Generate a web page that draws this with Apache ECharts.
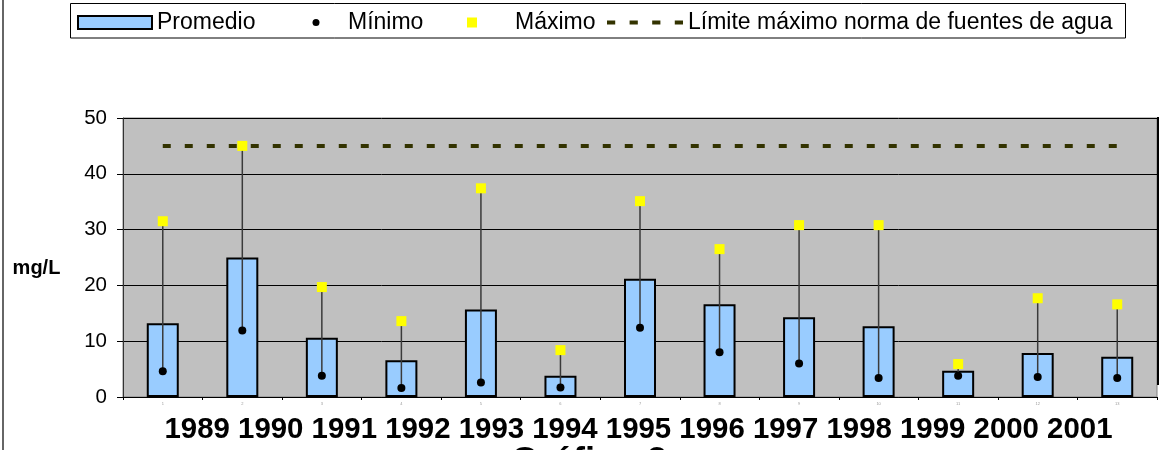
<!DOCTYPE html>
<html>
<head>
<meta charset="utf-8">
<script src="https://cdn.jsdelivr.net/npm/echarts@6/dist/echarts.min.js"></script>
<style>
  html, body { margin: 0; padding: 0; background: #fff; }
  #chart { width: 1159px; height: 450px; }
</style>
</head>
<body>
<div id="chart"></div>
<script>
// Nitrate concentration per year (mg/L)
const years = ['1989', '1990', '1991', '1992', '1993', '1994', '1995', '1996', '1997', '1998', '1999', '2000', '2001'];
const promedio = [13.2, 25.0, 10.6, 6.6, 15.7, 3.8, 21.2, 16.6, 14.3, 12.7, 4.7, 7.9, 7.2];
const minimo = [4.6, 11.9, 3.8, 1.6, 2.6, 1.7, 12.4, 8.0, 6.0, 3.4, 3.8, 3.6, 3.4];
const maximo = [31.5, 45.0, 19.7, 13.6, 37.4, 8.4, 35.1, 26.5, 30.8, 30.8, 5.9, 17.7, 16.6];
const limiteNorma = 45;
const yMin = 0, yMax = 50, yStep = 10;

const FONT = '"Liberation Sans", Arial, sans-serif';
const chart = echarts.init(document.getElementById('chart'), null, { renderer: 'canvas' });

const rangeData = years.map((y, i) => [i, minimo[i], maximo[i]]);
const limitData = years.map(() => limiteNorma);

const legendText = { fontFamily: FONT, fontSize: 23, color: '#000' };
const legendTop = 11;

chart.setOption({
  animation: false,
  backgroundColor: '#fff',
  grid: {
    left: 123, right: 2, top: 118, bottom: 53,
    show: true, backgroundColor: '#C0C0C0', borderColor: '#808080', borderWidth: 1
  },
  // one legend block per entry so each sits at its own spot inside the frame
  legend: [
    { data: [{ name: 'Promedio', icon: 'rect' }], left: 77, top: legendTop, padding: 0, itemWidth: 74, itemHeight: 13,
      textStyle: legendText, selectedMode: false },
    { data: [{ name: 'Mínimo', icon: 'circle' }], left: 312.5, top: legendTop, padding: 0, itemWidth: 54, itemHeight: 7,
      textStyle: legendText, selectedMode: false },
    { data: [{ name: 'Máximo', icon: 'path://M0,0h10v10h-10z' }], left: 467, top: legendTop, padding: 0,
      itemWidth: 76, itemHeight: 10, symbolKeepAspect: true,
      textStyle: legendText, selectedMode: false },
    { data: [{ name: 'Límite máximo norma de fuentes de agua',
               icon: 'path://M0,0h8v4h-8z M22,0h8v4h-8z M44,0h8v4h-8z M66,0h8v4h-8z',
               itemStyle: { color: '#333300', borderWidth: 0 } }],
      left: 607, top: legendTop, padding: 0, itemWidth: 76, itemHeight: 4, symbolKeepAspect: false,
      textStyle: legendText, selectedMode: false }
  ],
  xAxis: {
    type: 'category',
    data: years,
    boundaryGap: true,
    axisLine: { show: true, lineStyle: { color: '#000', width: 1 } },
    axisTick: { show: true, length: 3, lineStyle: { color: '#000' } },
    axisLabel: {
      formatter: (v, i) => String(i + 1),
      fontSize: 4, color: '#999', margin: 5, fontFamily: FONT
    },
    splitLine: { show: false }
  },
  yAxis: {
    type: 'value',
    min: yMin, max: yMax, interval: yStep,
    axisLine: { show: true, lineStyle: { color: '#333', width: 1 } },
    axisTick: { show: true, inside: false, length: 6, lineStyle: { color: '#000' } },
    axisLabel: { fontFamily: FONT, fontSize: 20.5, color: '#000', margin: 16 },
    splitLine: { show: true, lineStyle: { color: '#000', width: 1 } }
  },
  series: [
    {
      name: 'Promedio',
      type: 'bar',
      data: promedio,
      barWidth: 32,
      itemStyle: { color: '#99CCFF', borderColor: '#000', borderWidth: 2 },
      z: 2
    },
    {
      name: 'Rango',
      type: 'custom',
      data: rangeData,
      encode: { x: 0, y: [1, 2] },
      renderItem: (params, api) => {
        const lo = api.coord([api.value(0), api.value(1)]);
        const hi = api.coord([api.value(0), api.value(2)]);
        return {
          type: 'line',
          shape: { x1: lo[0], y1: lo[1], x2: hi[0], y2: hi[1] },
          style: { stroke: '#3a3a3a', lineWidth: 1.5 }
        };
      },
      z: 3
    },
    {
      name: 'Límite máximo norma de fuentes de agua',
      type: 'line',
      data: limitData,
      symbol: 'none',
      color: '#333300',
      lineStyle: { color: '#333300', width: 4, type: [8, 14] },
      z: 4
    },
    {
      name: 'Mínimo',
      type: 'scatter',
      data: minimo,
      symbol: 'circle',
      symbolSize: 8,
      itemStyle: { color: '#000', opacity: 1 },
      z: 5
    },
    {
      name: 'Máximo',
      type: 'scatter',
      data: maximo,
      symbol: 'rect',
      symbolSize: 10,
      itemStyle: { color: '#FFFF00', opacity: 1 },
      z: 6
    }
  ],
  graphic: [
    { type: 'rect', z: -1, shape: { x: 70.5, y: 3.5, width: 1055, height: 34.5 },
      style: { fill: '#fff', stroke: '#000', lineWidth: 1 } },
    { type: 'line', shape: { x1: 3, y1: 0, x2: 3, y2: 450 },
      style: { stroke: '#333', lineWidth: 1.5 } },
    { type: 'line', z: 10, shape: { x1: 1158, y1: 117, x2: 1158, y2: 385 },
      style: { stroke: '#000', lineWidth: 2 } },
    { type: 'text', x: 36.5, y: 268,
      style: { text: 'mg/L', fontFamily: FONT, fontSize: 20, fontWeight: 'bold', fill: '#000',
               align: 'center', verticalAlign: 'middle' } },
    { type: 'text', x: 638.5, y: 430,
      style: { text: years.join(' '), fontFamily: FONT, fontSize: 29.4, fontWeight: 'bold', fill: '#000',
               align: 'center', verticalAlign: 'middle' } },
    { type: 'text', x: 589, y: 463,
      style: { text: 'Gráfico 3', fontFamily: FONT, fontSize: 36, fontWeight: 'bold', fill: '#000',
               align: 'center', verticalAlign: 'middle' } }
  ]
});
</script>
</body>
</html>
